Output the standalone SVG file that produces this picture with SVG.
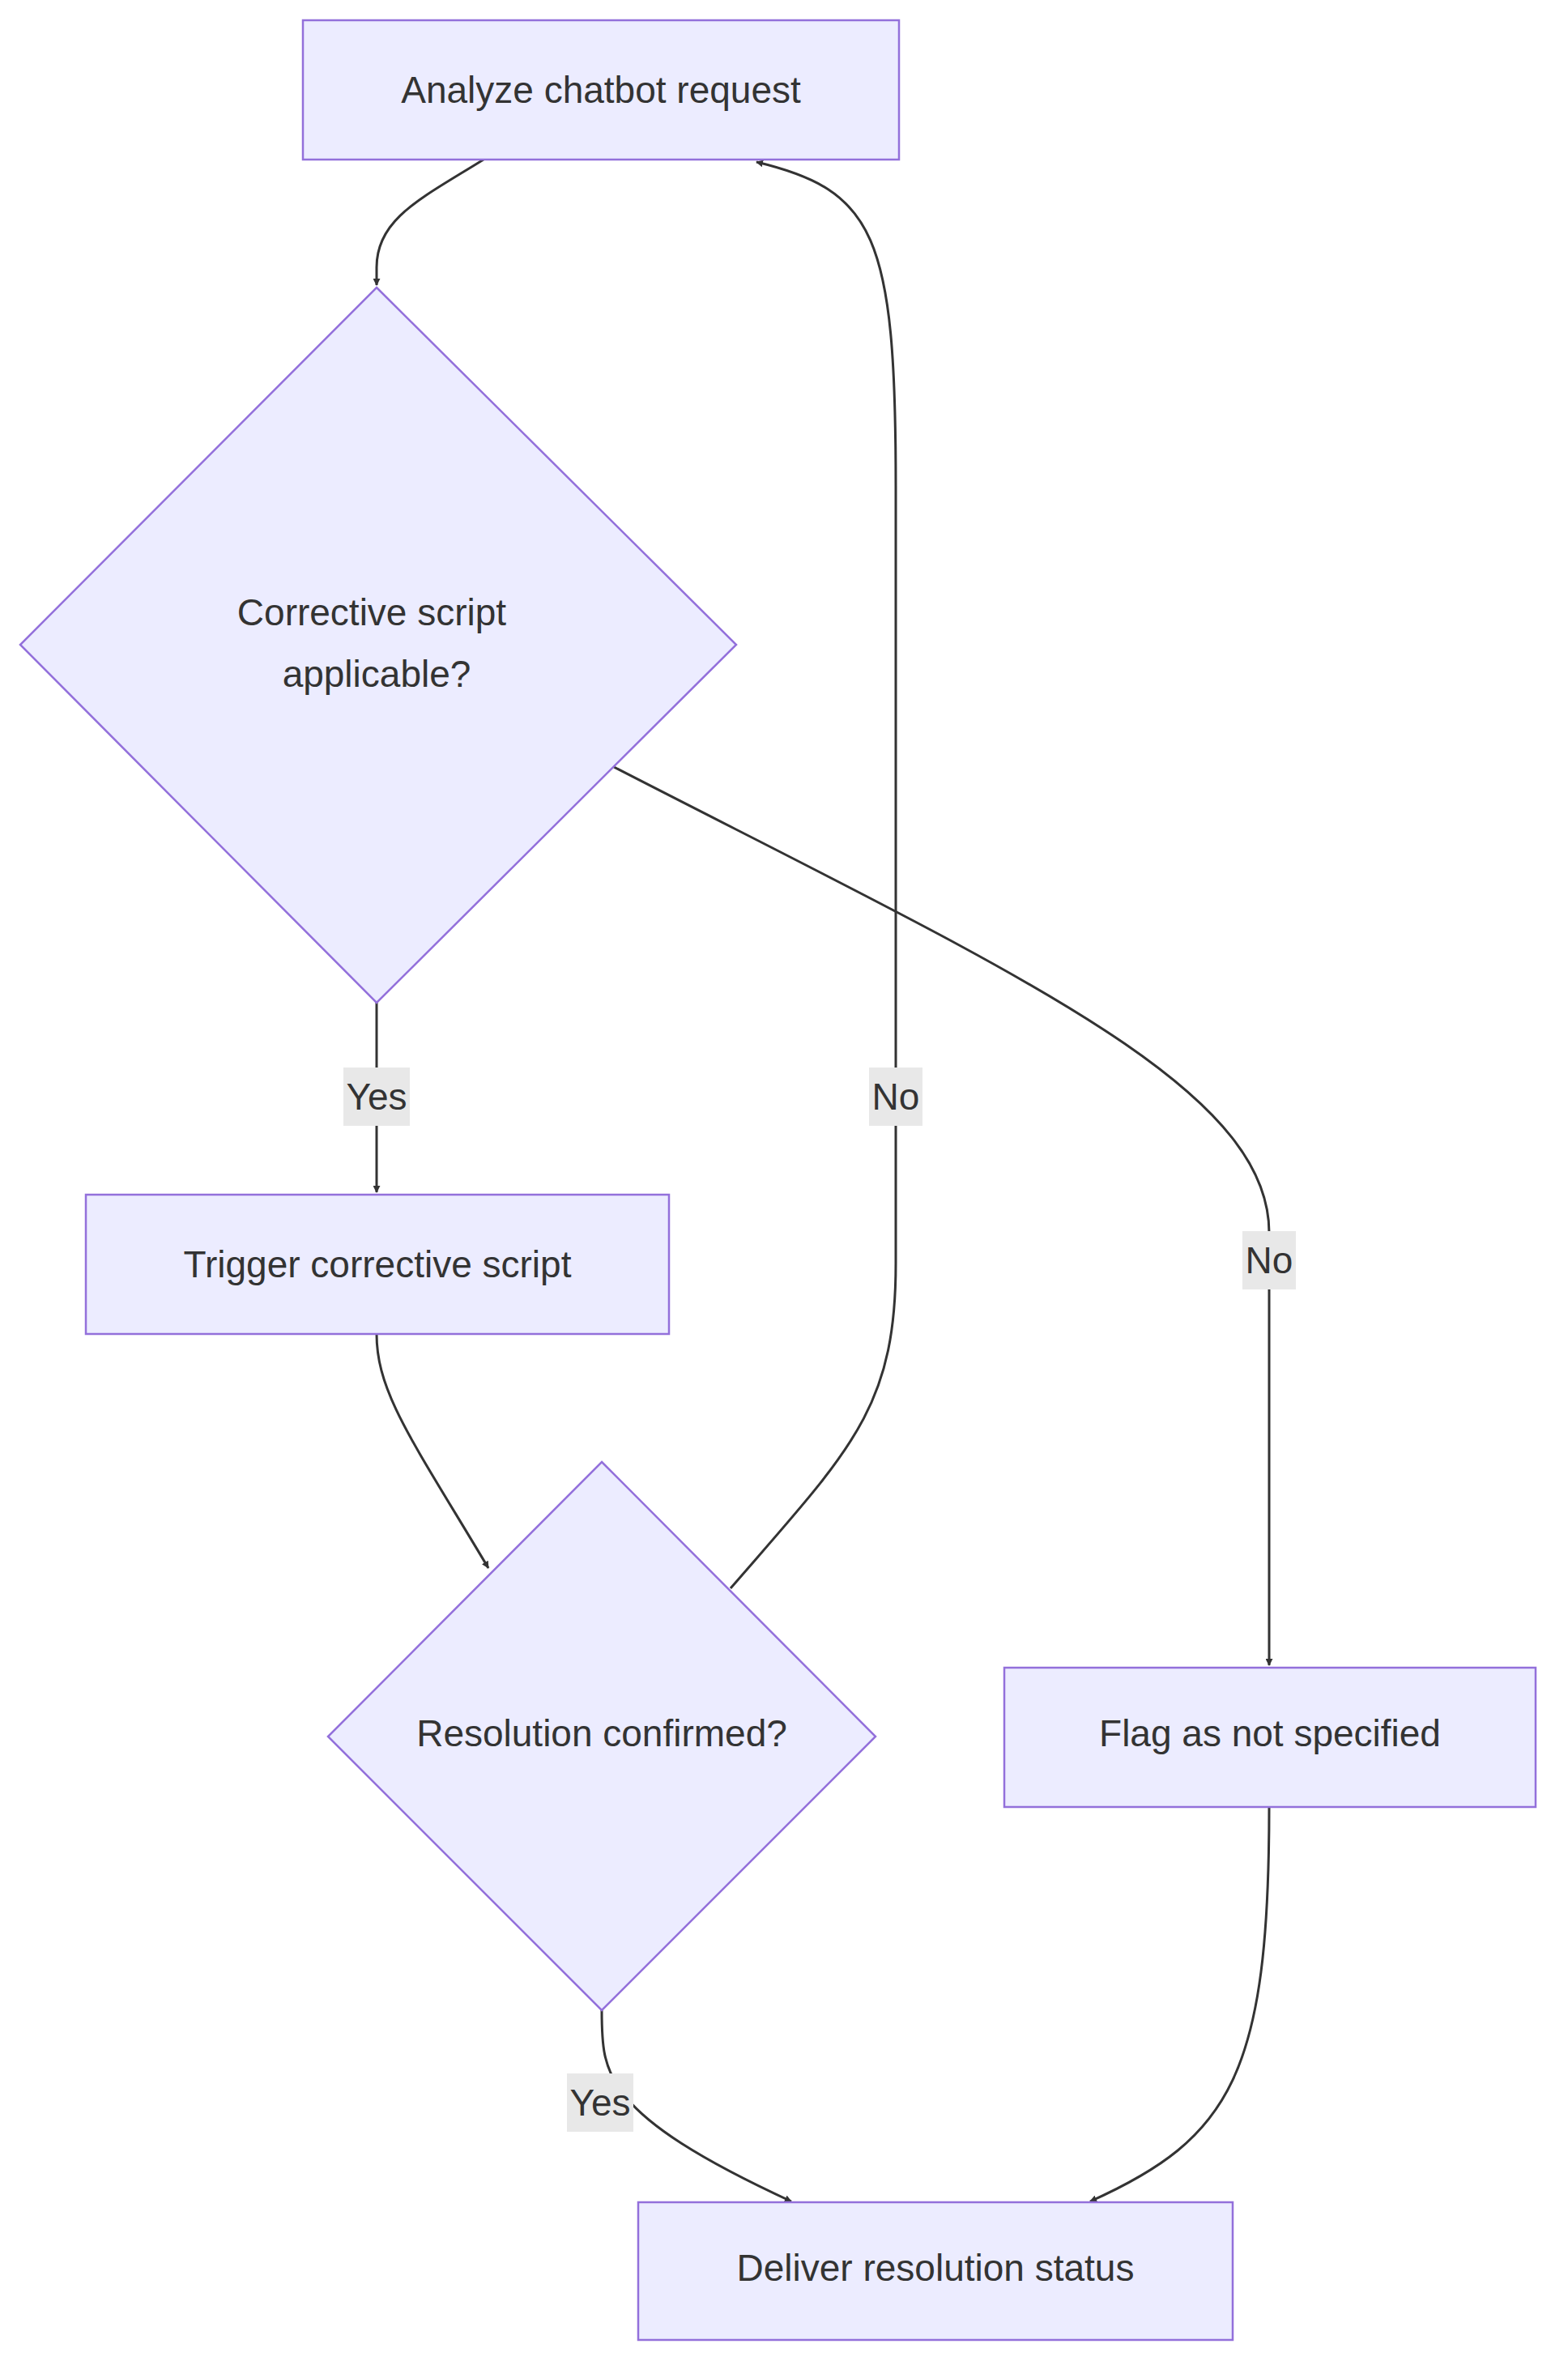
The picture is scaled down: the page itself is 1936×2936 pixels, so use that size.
<svg xmlns="http://www.w3.org/2000/svg" width="1936" height="2936" viewBox="0 0 1936 2936">
<defs>
<style>
.n{fill:#ECECFF;stroke:#9370DB;stroke-width:2.5}
.t{font-family:"Liberation Sans",Arial,sans-serif;font-size:46px;fill:#333;text-anchor:middle;dominant-baseline:central}
.e{fill:none;stroke:#333;stroke-width:3}
.lb{fill:#e8e8e8}
</style>
<marker id="ah" viewBox="0 0 10 10" refX="9" refY="5" markerWidth="9" markerHeight="9" markerUnits="userSpaceOnUse" orient="auto"><path d="M0,0L10,5L0,10z" fill="#333"/></marker>
</defs>
<rect width="1936" height="2936" fill="#fff"/>
<g id="edges">
<path class="e" d="M597,197 C520,245 465,270 465,330 L465,352" marker-end="url(#ah)" style="marker-end:url(#ah)"/>
<path class="e" d="M465,1238 L465,1472" marker-end="url(#ah)"/>
<path class="e" d="M465,1647 C465,1720 510,1780 603,1936" marker-end="url(#ah)"/>
<path class="e" d="M902,1961 C1050,1790 1106,1740 1106,1560 L1106,600 C1106,290 1080,235 934,200" marker-end="url(#ah)"/>
<path class="e" d="M758,947 C1250,1200 1567,1340 1567,1522 L1567,2056" marker-end="url(#ah)"/>
<path class="e" d="M743,2482 C743,2560 743,2610 977,2718" marker-end="url(#ah)"/>
<path class="e" d="M1567,2231 C1567,2560 1520,2640 1346,2718" marker-end="url(#ah)"/>
<rect class="lb" x="424" y="1318" width="82" height="72"/><text class="t" x="465" y="1354">Yes</text>
<rect class="lb" x="1073" y="1318" width="66" height="72"/><text class="t" x="1106" y="1354">No</text>
<rect class="lb" x="1534" y="1520" width="66" height="72"/><text class="t" x="1567" y="1556">No</text>
<rect class="lb" x="700" y="2560" width="82" height="72"/><text class="t" x="741" y="2596">Yes</text>
</g>
<g id="A"><rect class="n" x="374" y="25" width="736" height="172"/><text class="t" x="742" y="111">Analyze chatbot request</text></g>
<g id="C"><polygon class="n" points="465,355 909,796 465,1238 25,796"/><text class="t" x="459" y="756">Corrective script</text><text class="t" x="465" y="832">applicable?</text></g>
<g id="T"><rect class="n" x="106" y="1475" width="720" height="172"/><text class="t" x="466" y="1561">Trigger corrective script</text></g>
<g id="R"><polygon class="n" points="743,1805 1081,2144 743,2482 405,2144"/><text class="t" x="743" y="2140">Resolution confirmed?</text></g>
<g id="F"><rect class="n" x="1240" y="2059" width="656" height="172"/><text class="t" x="1568" y="2140">Flag as not specified</text></g>
<g id="D"><rect class="n" x="788" y="2719" width="734" height="170"/><text class="t" x="1155" y="2800">Deliver resolution status</text></g>
</svg>
